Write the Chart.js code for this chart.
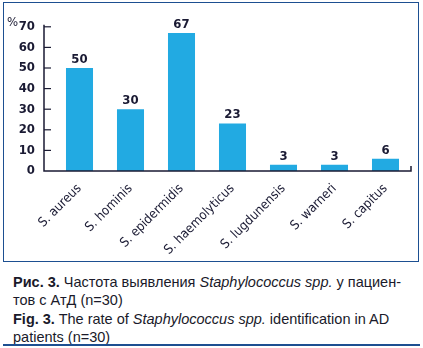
<!DOCTYPE html>
<html>
<head>
<meta charset="utf-8">
<script src="https://cdn.jsdelivr.net/npm/chart.js@4.4.0/dist/chart.umd.min.js"></script>
<style>
  body { margin: 0; background: #fff; }
  #wrap { position: relative; width: 423px; height: 348px; overflow: hidden; }
  #box { position: absolute; left: 3px; top: 2px; width: 414px; height: 258px; border: 1.5px solid #1d4f91; }
  #myChart { position: absolute; left: 0; top: 0; }
  #caption { position: absolute; left: 13px; top: 273px; width: 405px;
    font-family: "Liberation Sans", Arial, sans-serif; font-size: 14.5px; color: #1a1a2a; line-height: 18px; }
  #caption p { margin: 0 0 1px 0; }
  #rule { position: absolute; left: 3px; top: 344px; width: 417px; height: 2px; background: #1d4f91; }
</style>
</head>
<body>
<div id="wrap">
  <div id="box"></div>
  <canvas id="myChart" width="423" height="262"></canvas>
  <div id="caption">
    <p><b>Рис. 3.</b> Частота выявления <i>Staphylococcus spp.</i> у пациен-<br>тов с АтД (n=30)</p>
    <p><b>Fig. 3.</b> The rate of <i>Staphylococcus spp.</i> identification in AD<br>patients (n=30)</p>
  </div>
  <div id="rule"></div>
</div>
<script>
// data
const species = ["S. aureus", "S. hominis", "S. epidermidis", "S. haemolyticus", "S. lugdunensis", "S. warneri", "S. capitus"];
const rates = [50, 30, 67, 23, 3, 3, 6];
const yTicks = [0, 10, 20, 30, 40, 50, 60, 70];

const ink = "#1a1a33";
const narrow = '"DejaVu Sans Condensed", "Liberation Sans", Arial, sans-serif';

// axis lines, inner ticks, value labels and the % sign
const extras = {
  id: "extras",
  afterDraw(chart) {
    const c = chart.ctx;
    const a = chart.chartArea;
    const y = chart.scales.y;
    const axisX = a.left - 10;
    c.save();
    c.strokeStyle = ink;
    c.lineWidth = 1.5;
    c.beginPath();
    c.moveTo(axisX, a.top - 2);
    c.lineTo(axisX, a.bottom);
    c.lineTo(a.right, a.bottom);
    c.lineTo(a.right, a.bottom - 5);
    c.stroke();
    c.lineWidth = 1.2;
    yTicks.forEach(v => {
      if (v === 0) return;
      const py = y.getPixelForValue(v);
      c.beginPath();
      c.moveTo(axisX, py);
      c.lineTo(axisX + 7, py);
      c.stroke();
    });
    // values above bars
    c.fillStyle = ink;
    c.font = "bold 13px " + narrow;
    c.textAlign = "center";
    c.textBaseline = "bottom";
    chart.getDatasetMeta(0).data.forEach((bar, i) => {
      c.fillText(rates[i], bar.x, bar.y - 2);
    });
    c.font = "13px " + narrow;
    c.textAlign = "left";
    c.fillText("%", 7, a.top + 2);
    c.restore();
  }
};

new Chart(document.getElementById("myChart"), {
  type: "bar",
  data: {
    labels: species,
    datasets: [
      {
        data: rates,
        backgroundColor: "#22aae2",
        barPercentage: 0.53,
        categoryPercentage: 1,
      },
    ],
  },
  options: {
    responsive: false,
    animation: false,
    layout: { padding: { top: 25, right: 12, left: 0, bottom: 0 } },
    plugins: { legend: { display: false }, tooltip: { enabled: false } },
    scales: {
      x: {
        grid: { display: false },
        border: { display: false },
        ticks: {
          color: ink,
          font: { family: narrow, size: 13 },
          maxRotation: 45,
          minRotation: 45,
          padding: 2,
        },
        afterFit(scale) { scale.height = 91; },
      },
      y: {
        min: 0,
        max: 70,
        grid: { display: false, drawTicks: false },
        border: { display: false },
        afterBuildTicks(scale) { scale.ticks = yTicks.map(v => ({ value: v })); },
        ticks: {
          color: ink,
          font: { family: narrow, size: 13, weight: "bold" },
          padding: 19,
        },
        afterFit(scale) { scale.width = 54; },
      },
    },
  },
  plugins: [extras],
});
</script>
</body>
</html>
